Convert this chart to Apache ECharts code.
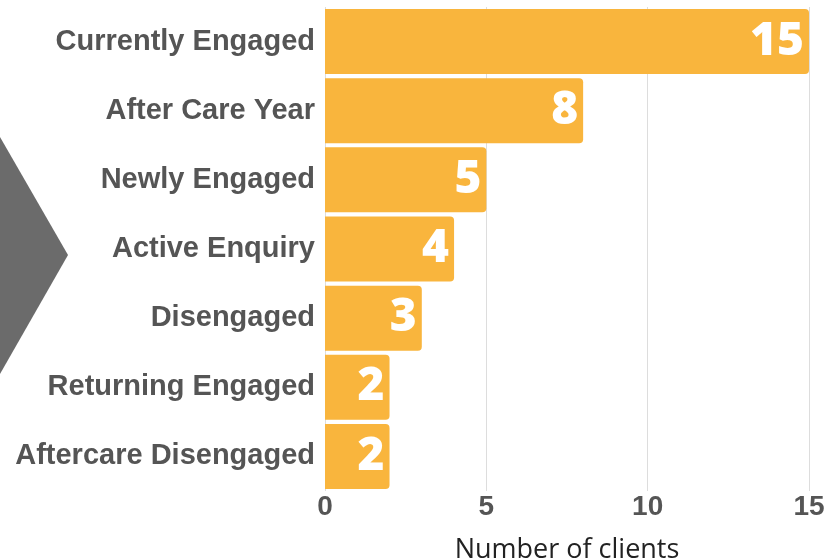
<!DOCTYPE html>
<html>
<head>
<meta charset="utf-8">
<script src="https://cdn.jsdelivr.net/npm/echarts@6/dist/echarts.min.js"></script>
<style>html,body{margin:0;padding:0;background:#fff}#c{width:840px;height:560px}</style>
</head>
<body>
<div id="c"></div>
<script>
var categories = ["Currently Engaged","After Care Year","Newly Engaged","Active Enquiry","Disengaged","Returning Engaged","Aftercare Disengaged"];
var values = [15,8,5,4,3,2,2];
var xTicks = [0,5,10,15];

var chart = echarts.init(document.getElementById('c'), null, {renderer:'canvas'});
chart.setOption({
  animation: false,
  backgroundColor: '#ffffff',
  grid: {left: 325, right: 31, top: 7, bottom: 69, containLabel: false, outerBoundsMode: 'none'},
  graphic: [{
    type: 'polygon',
    shape: {points: [[0,137],[68,255],[0,374]]},
    style: {fill: '#6b6b6b'},
    z: 0
  }],
  xAxis: {
    type: 'value',
    min: xTicks[0], max: xTicks[xTicks.length-1], interval: 5,
    name: 'Number of clients',
    nameLocation: 'middle',
    nameGap: 46,
    nameTextStyle: {fontFamily: 'Open Sans', fontSize: 27, color: '#222222'},
    axisLine: {show: false},
    axisTick: {show: false},
    axisLabel: {fontFamily: 'Arial, "Liberation Sans", sans-serif', fontWeight: 'bold', fontSize: 28, color: '#555555', margin: 2},
    splitLine: {show: true, lineStyle: {color: '#dddddd', width: 1}}
  },
  yAxis: {
    type: 'category',
    data: categories,
    inverse: true,
    axisLine: {show: false},
    axisTick: {show: false},
    axisLabel: {fontFamily: 'Arial, "Liberation Sans", sans-serif', fontWeight: 'bold', fontSize: 29, color: '#555555', margin: 10}
  },
  series: [{
    type: 'bar',
    data: values,
    barCategoryGap: '6%',
    itemStyle: {color: '#f9b53d', borderRadius: [0,4,4,0]},
    label: {
      show: true, position: 'insideRight', distance: 5,
      fontFamily: 'Open Sans', fontWeight: 800, fontSize: 46, color: '#ffffff'
    }
  }]
});
</script>
</body>
</html>
